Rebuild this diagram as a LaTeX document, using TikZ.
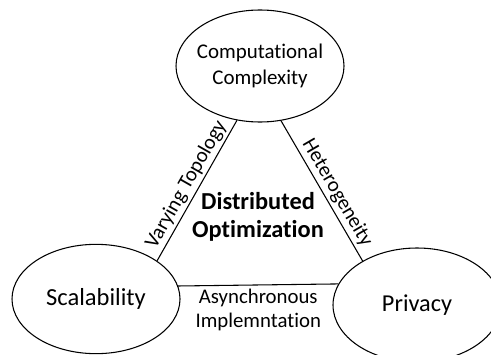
\documentclass[tikz,border=0pt]{standalone}
\usepackage{fontspec}
\setmainfont[Ligatures=NoCommon]{Carlito}
\usepackage{tikz}
\usetikzlibrary{positioning,shapes.geometric}

\tikzset{
  topic/.style={ellipse,draw,line width=0.8pt,inner xsep=-5pt,inner ysep=0pt,
    minimum width=126pt,minimum height=84pt,align=center},
  edgelabel/.style={midway,sloped,inner sep=2pt,
    font=\fontsize{15.6}{18}\selectfont}
}

\begin{document}
\begin{tikzpicture}[x=0.75pt,y=0.75pt]
  \useasboundingbox (0,0) rectangle (491,354);

  \node[topic,font=\fontsize{15.7}{19.5}\selectfont] (comp) at (260,288)
    {Computational\\Complexity};
  \node[topic,minimum height=82pt,font=\fontsize{18.4}{22}\selectfont] (scal) at (96,55)
    {Scalability};
  \node[topic,minimum height=85.5pt,font=\fontsize{18.2}{22}\selectfont] (priv) at (417,49)
    {Privacy};

  \node[align=center,font=\bfseries\fontsize{18.3}{21}\selectfont] (dopt) at (258,137)
    {Distributed\\Optimization};

  \draw[line width=0.8pt] (scal.32.6) -- (comp.247.4)
    node[edgelabel,above] {Varying Topology};
  \draw[line width=0.8pt] (comp.291.2) -- (priv.141.3)
    node[edgelabel,above,pos=0.56] {Heterogeneity};
  \draw[line width=0.8pt] (scal.9.9) -- (priv.165.8)
    node[midway,below,align=center,inner sep=3pt,
         font=\fontsize{15.6}{17.5}\selectfont] {Asynchronous\\Implemntation};
\end{tikzpicture}
\end{document}
